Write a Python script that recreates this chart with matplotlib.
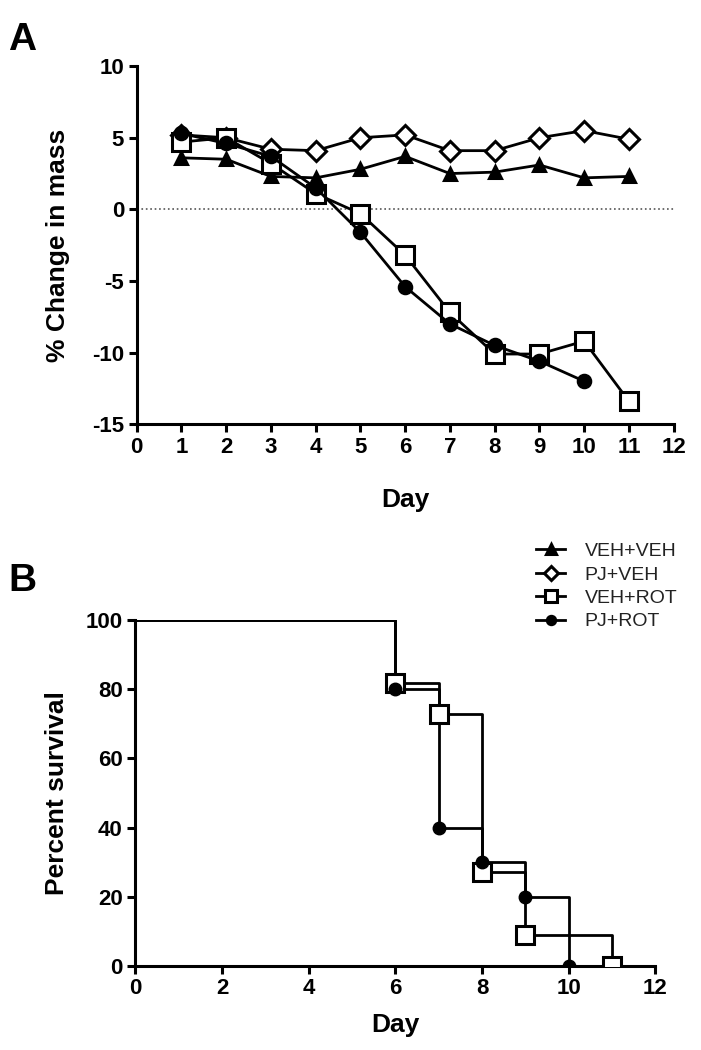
import numpy as np
import matplotlib
matplotlib.use("Agg")
import matplotlib.pyplot as plt

plt.rcParams['font.family'] = ['Liberation Sans', 'DejaVu Sans']
plt.rcParams['axes.unicode_minus'] = False

# panel A: % change in mass
days = [1, 2, 3, 4, 5, 6, 7, 8, 9, 10, 11]
veh_veh = [3.6, 3.5, 2.3, 2.2, 2.8, 3.7, 2.5, 2.6, 3.1, 2.2, 2.3]
pj_veh = [5.2, 5.0, 4.2, 4.1, 5.0, 5.2, 4.1, 4.1, 5.0, 5.5, 4.9]
veh_rot = [4.7, 5.0, 3.2, 1.1, -0.3, -3.2, -7.2, -10.1, -10.1, -9.2, -13.4]
pj_rot_days = [1, 2, 3, 4, 5, 6, 7, 8, 9, 10]
pj_rot = [5.3, 4.6, 3.7, 1.5, -1.6, -5.4, -8.0, -9.5, -10.6, -12.0]

# panel B: Kaplan-Meier survival
surv_veh_rot_days = [0, 6, 7, 8, 9, 11]
surv_veh_rot = [100, 81.8, 72.7, 27.3, 9.1, 0]
surv_pj_rot_days = [0, 6, 7, 8, 9, 10]
surv_pj_rot = [100, 80, 40, 30, 20, 0]

labels = ['VEH+VEH', 'PJ+VEH', 'VEH+ROT', 'PJ+ROT']

fig = plt.figure(figsize=(7.01, 10.5), dpi=100)

def style_axes(ax):
    for s in ['top', 'right']:
        ax.spines[s].set_visible(False)
    for s in ['left', 'bottom']:
        ax.spines[s].set_linewidth(2.2)
    ax.tick_params(direction='out', length=6, width=2.2, labelsize=16, pad=3)
    for t in ax.get_xticklabels() + ax.get_yticklabels():
        t.set_fontweight('bold')

# ---- panel A
axA = fig.add_axes([0.195, 0.596, 0.766, 0.341])
axA.axhline(0, color='#555555', lw=1.2, ls=':', zorder=1)
kw = dict(color='black', lw=2, markeredgewidth=2.2, zorder=3)
axA.plot(days, veh_veh, marker='^', ms=9, mfc='black', **kw)
axA.plot(days, pj_veh, marker='D', ms=10, mfc='white', **kw)
axA.plot(days, veh_rot, marker='s', ms=13, mfc='white', **kw)
axA.plot(pj_rot_days, pj_rot, marker='o', ms=9, mfc='black', **kw)
axA.set_xlim(0, 12)
axA.set_ylim(-15, 10)
axA.set_xticks(range(0, 13))
axA.set_yticks([-15, -10, -5, 0, 5, 10])
axA.set_xlabel('Day', fontsize=19, fontweight='bold', labelpad=22)
axA.set_ylabel('% Change in mass', fontsize=19, fontweight='bold', labelpad=16)
style_axes(axA)
fig.text(0.012, 0.952, 'A', fontsize=28, fontweight='bold')

# ---- panel B
axB = fig.add_axes([0.193, 0.08, 0.742, 0.3295])
h1, = axB.plot([], [], marker='^', ms=7, mfc='black', **kw)
h2, = axB.plot([], [], marker='D', ms=7, mfc='white', **kw)
axB.plot(surv_veh_rot_days, surv_veh_rot, drawstyle='steps-post', color='black', lw=2, zorder=3)
axB.plot(surv_pj_rot_days, surv_pj_rot, drawstyle='steps-post', color='black', lw=2, zorder=3)
axB.plot(surv_veh_rot_days[1:], surv_veh_rot[1:], ls='none', marker='s', ms=13,
         mfc='white', mec='black', markeredgewidth=2.2, zorder=4)
axB.plot(surv_pj_rot_days[1:], surv_pj_rot[1:], ls='none', marker='o', ms=9,
         mfc='black', mec='black', zorder=5)
h3, = axB.plot([], [], marker='s', ms=8, mfc='white', **kw)
h4, = axB.plot([], [], marker='o', ms=6, mfc='black', **kw)
axB.set_xlim(0, 12)
axB.set_ylim(0, 100)
axB.set_xticks(range(0, 13, 2))
axB.set_yticks(range(0, 101, 20))
axB.set_xlabel('Day', fontsize=19, fontweight='bold', labelpad=10)
axB.set_ylabel('Percent survival', fontsize=19, fontweight='bold', labelpad=12)
style_axes(axB)
for sp in axB.spines.values():
    sp.set_clip_on(False)
fig.text(0.012, 0.437, 'B', fontsize=28, fontweight='bold')

fig.legend([h1, h2, h3, h4], labels, loc='upper left', bbox_to_anchor=(0.74, 0.5),
           frameon=False, fontsize=14, handlelength=1.5, handletextpad=1.0,
           labelspacing=0.3, labelcolor='#222222')

fig.savefig('out.png', dpi=100)
